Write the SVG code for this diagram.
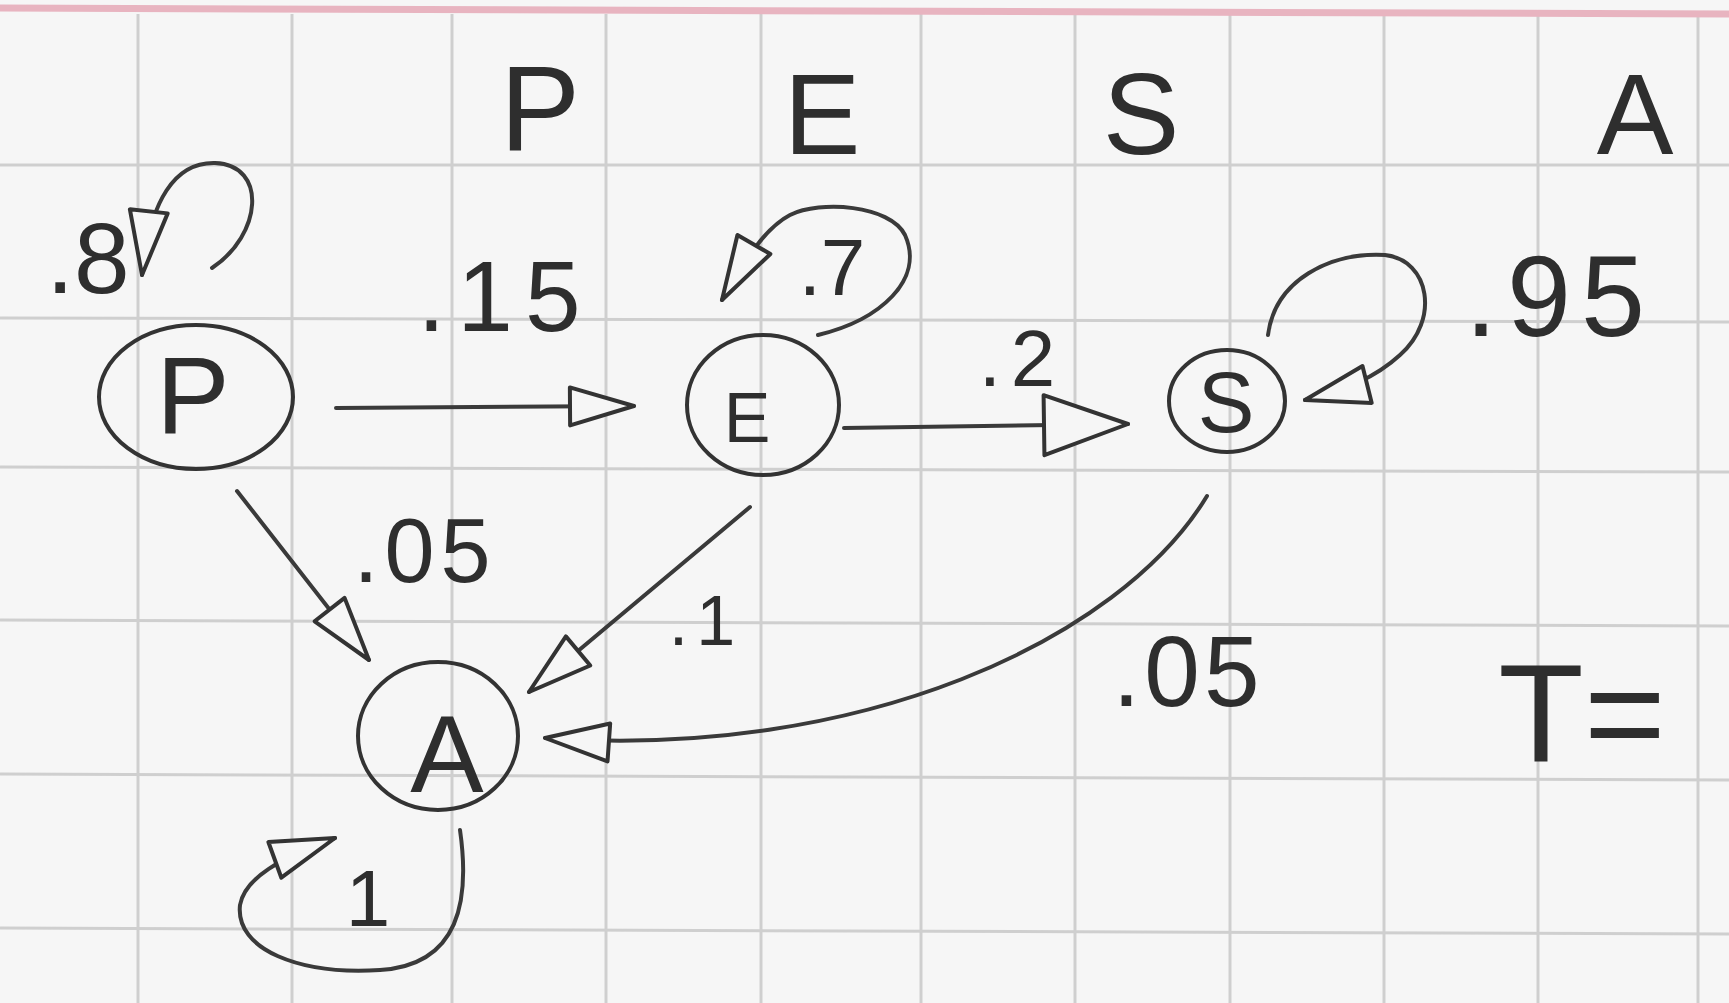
<svg xmlns="http://www.w3.org/2000/svg" width="1729" height="1003" viewBox="0 0 1729 1003">
<defs>
<style>
.grid line{stroke:#cfcfcf;stroke-width:3}
.node ellipse{fill:none;stroke:#333;stroke-width:4}
.t{font-family:"Liberation Sans",Arial,sans-serif;fill:#2e2e2e;text-anchor:middle}
.edge{fill:none;stroke:#3a3a3a;stroke-width:4;stroke-linecap:round}
</style>
<marker id="tri" markerUnits="userSpaceOnUse" markerWidth="72" markerHeight="50" viewBox="0 0 72 50" refX="68" refY="25" orient="auto">
<path d="M4,6 L68,25 L4,44 Z" fill="#f6f6f6" stroke="#333" stroke-width="4" stroke-linejoin="round"/>
</marker>
<marker id="triL" markerUnits="userSpaceOnUse" markerWidth="92" markerHeight="70" viewBox="0 0 92 70" refX="88" refY="35" orient="auto">
<path d="M4,5 L88,35 L4,65 Z" fill="#f6f6f6" stroke="#333" stroke-width="4" stroke-linejoin="round"/>
</marker>
</defs>
<rect width="1729" height="1003" fill="#f6f6f6"/>
<g class="grid">
<line x1="138" y1="14" x2="138" y2="1003"/>
<line x1="292" y1="14" x2="292" y2="1003"/>
<line x1="452" y1="14" x2="452" y2="1003"/>
<line x1="606" y1="14" x2="606" y2="1003"/>
<line x1="761" y1="14" x2="761" y2="1003"/>
<line x1="921" y1="14" x2="921" y2="1003"/>
<line x1="1075" y1="14" x2="1075" y2="1003"/>
<line x1="1230" y1="14" x2="1230" y2="1003"/>
<line x1="1384" y1="14" x2="1384" y2="1003"/>
<line x1="1538" y1="14" x2="1538" y2="1003"/>
<line x1="1698" y1="14" x2="1698" y2="1003"/>
<line x1="0" y1="165" x2="1729" y2="165"/>
<line x1="0" y1="318" x2="1729" y2="322"/>
<line x1="0" y1="467" x2="1729" y2="472"/>
<line x1="0" y1="620" x2="1729" y2="626"/>
<line x1="0" y1="774" x2="1729" y2="780"/>
<line x1="0" y1="928" x2="1729" y2="934"/>
</g>
<line x1="0" y1="8" x2="1729" y2="14" stroke="#e8b4c0" stroke-width="7"/>
<g id="header">
<text class="t" x="540" y="150" font-size="120">P</text>
<text class="t" x="822" y="154" font-size="115">E</text>
<text class="t" x="1141" y="154" font-size="115">S</text>
<text class="t" x="1635" y="154" font-size="115">A</text>
</g>
<g id="connectors">
<path class="edge" d="M336,408 L634,406" marker-end="url(#tri)"/>
<path class="edge" d="M844,428 L1128,424" marker-end="url(#triL)"/>
<path class="edge" d="M237,491 L369,660" marker-end="url(#tri)"/>
<path class="edge" d="M750,507 L529,692" marker-end="url(#tri)"/>
<path class="edge" d="M1207,496 C1120,640 860,760 545,738" marker-end="url(#tri)"/>
<path class="edge" d="M212,268 C262,235 268,165 215,163 C175,162 150,200 142,275" marker-end="url(#tri)"/>
<path class="edge" d="M818,335 C880,320 925,280 905,235 C890,205 820,200 790,215 C765,228 745,260 722,300" marker-end="url(#tri)"/>
<path class="edge" d="M1268,335 C1275,280 1330,252 1385,255 C1430,260 1440,320 1400,355 C1375,378 1345,390 1305,400" marker-end="url(#tri)"/>
<path class="edge" d="M460,830 C470,900 460,965 380,970 C300,975 235,950 240,905 C245,878 280,858 335,838" marker-end="url(#tri)"/>
<g id="labels">
<text class="t" x="88" y="293" font-size="100">.8</text>
<text class="t" x="505" y="331" font-size="100" letter-spacing="12">.15</text>
<text class="t" x="832" y="295" font-size="80">.7</text>
<text class="t" x="1022" y="386" font-size="80" letter-spacing="10">.2</text>
<text class="t" x="1560" y="336" font-size="115" letter-spacing="10">.95</text>
<text class="t" x="425" y="582" font-size="90" letter-spacing="6">.05</text>
<text class="t" x="706" y="645" font-size="70" letter-spacing="8">.1</text>
<text class="t" x="1188" y="706" font-size="100" letter-spacing="4">.05</text>
<text class="t" x="368" y="926" font-size="80">1</text>
</g>
</g>
<g id="node-P" class="node">
<ellipse cx="196" cy="397" rx="97" ry="72"/>
<text class="t" x="193" y="433" font-size="110">P</text>
</g>
<g id="node-E" class="node">
<ellipse cx="763" cy="405" rx="76" ry="70"/>
<text class="t" x="747" y="442" font-size="70">E</text>
</g>
<g id="node-S" class="node">
<ellipse cx="1227" cy="401" rx="58" ry="51"/>
<text class="t" x="1226" y="432" font-size="85">S</text>
</g>
<g id="node-A" class="node">
<ellipse cx="438" cy="736" rx="80" ry="74"/>
<text class="t" x="447" y="792" font-size="110">A</text>
</g>
<g id="note">
<text class="t" x="1582" y="761" font-size="140">T=</text>
</g>
</svg>
